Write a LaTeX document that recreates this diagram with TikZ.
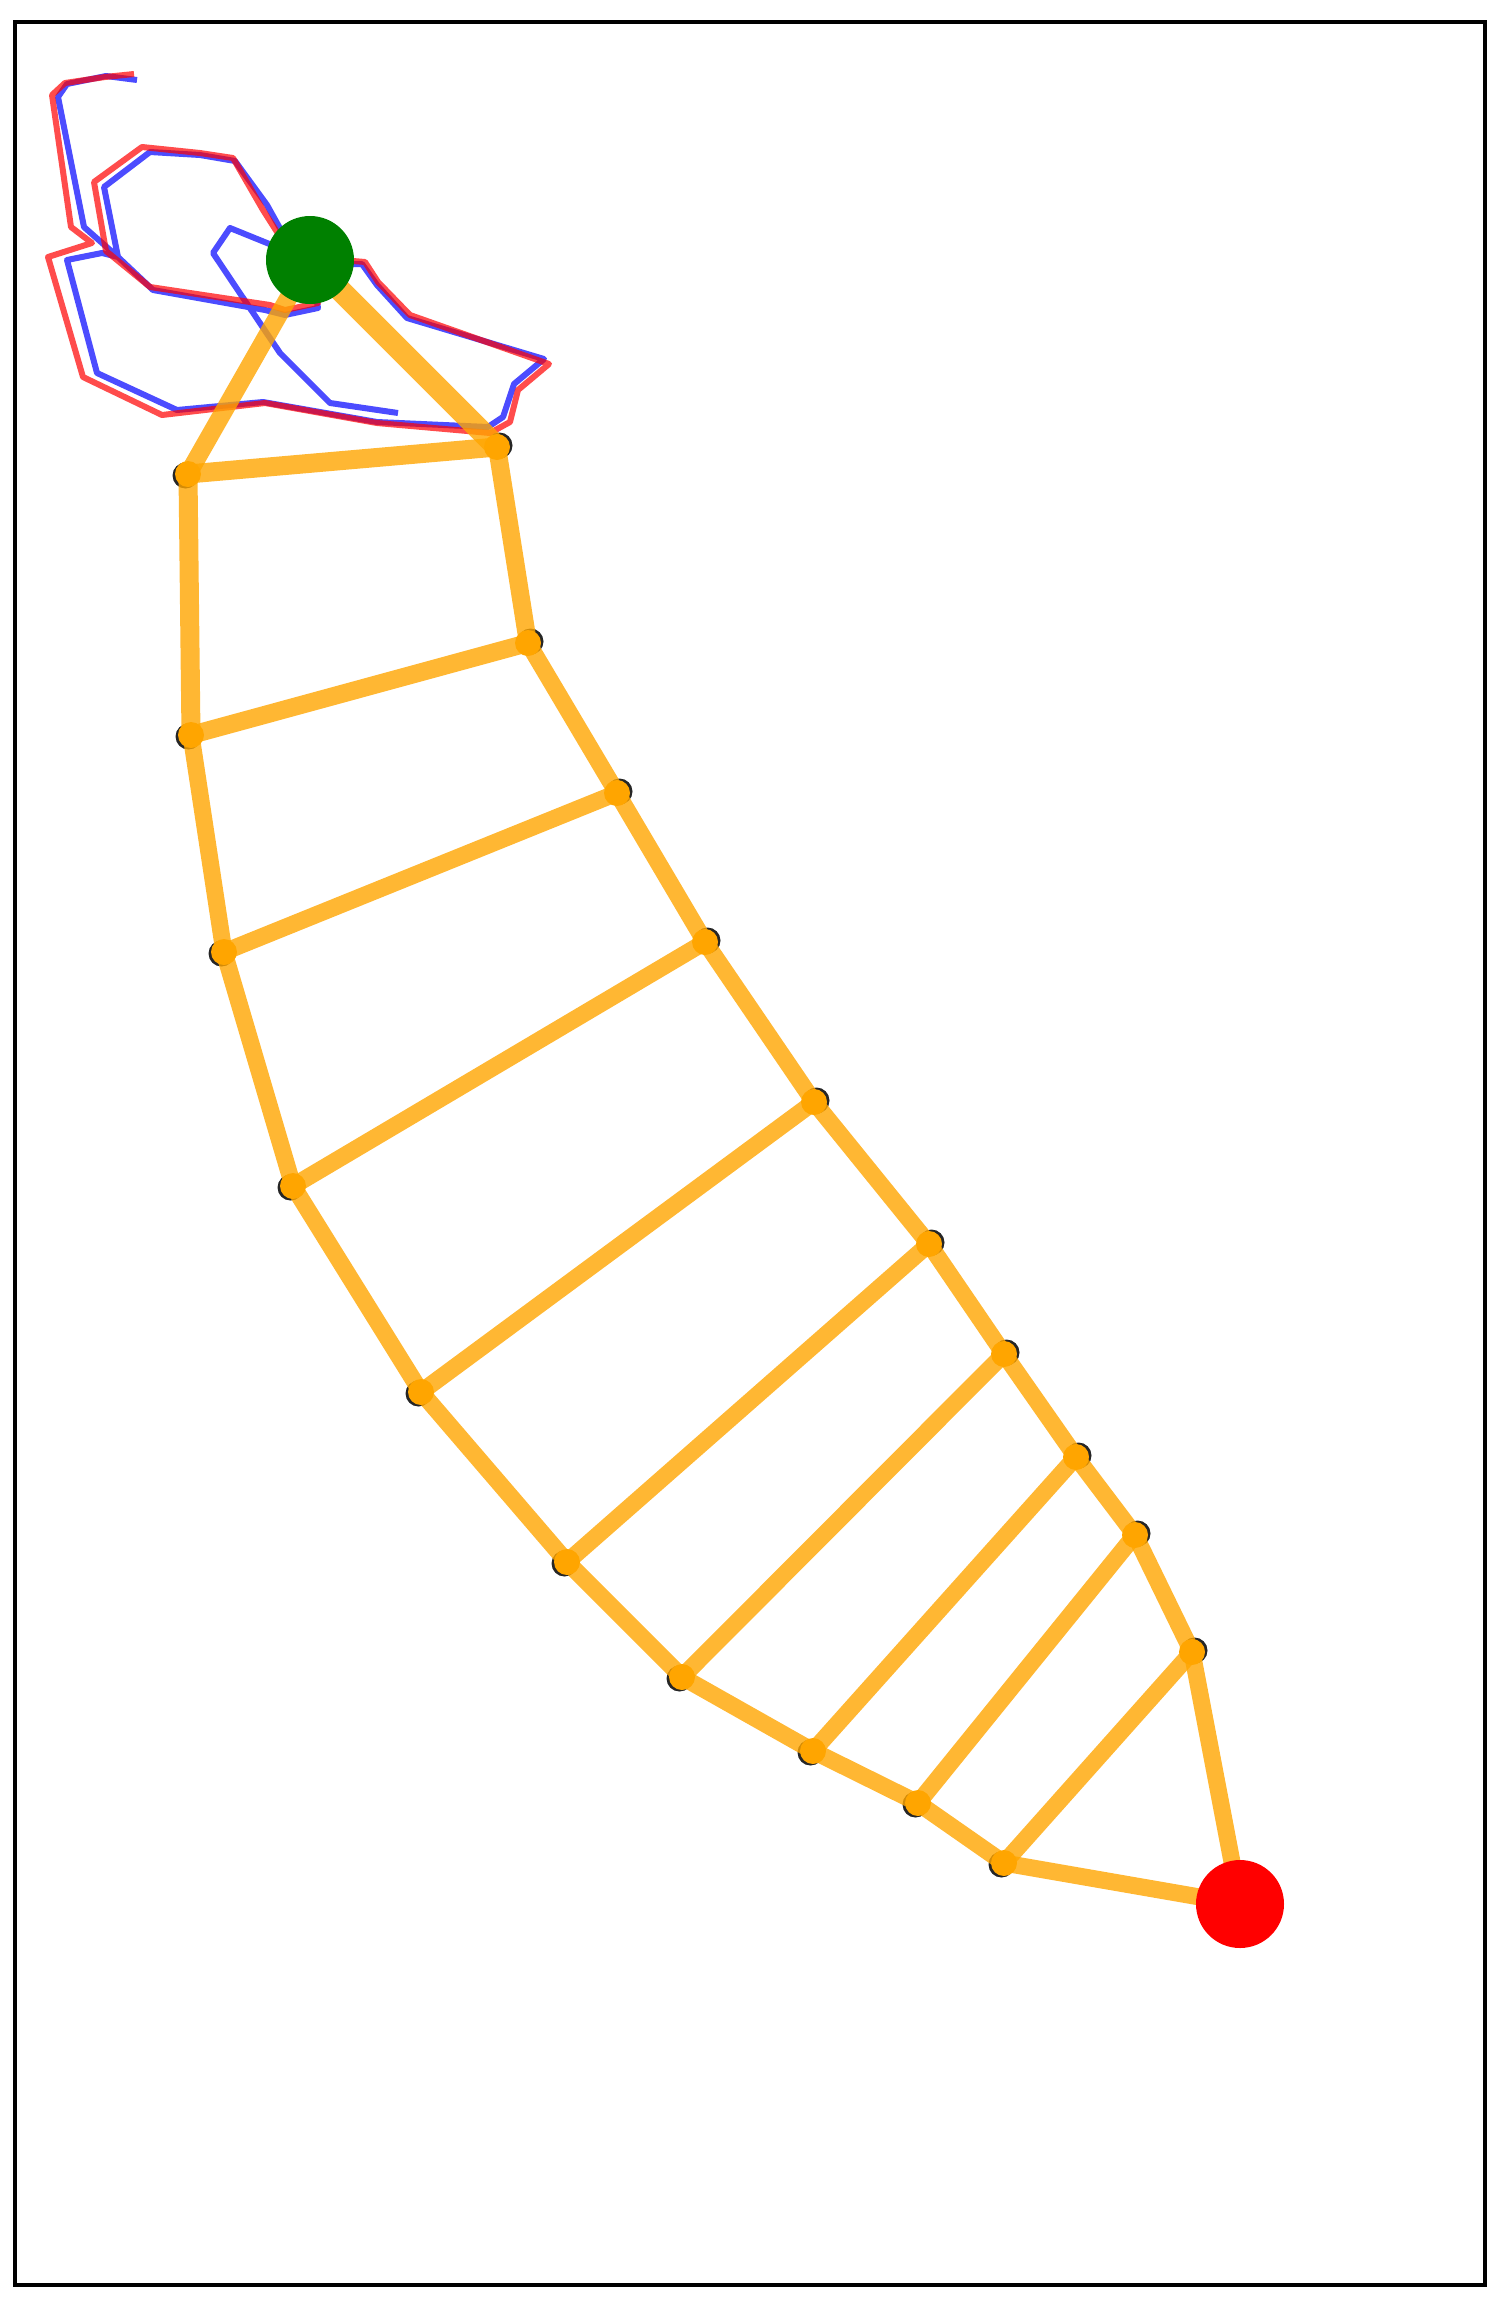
\documentclass[tikz,border=0pt]{standalone}
\usetikzlibrary{calc}
\definecolor{orng}{RGB}{255,165,0}
\definecolor{grn}{RGB}{0,128,0}
\begin{document}
\begin{tikzpicture}[x=1pt,y=-1pt,
  edge/.style={draw=orng,opacity=0.8,line width=17pt},
  traj/.style={line width=6pt,opacity=0.7,line join=round,line cap=butt},
  blk/.style={fill=black!85,draw=none},
  vtx/.style={fill=orng,draw=none}]
\useasboundingbox (0,0) rectangle (1500,2308);
\draw[line width=4pt] (15,22) rectangle (1485,2285);
% graph vertices
\coordinate (G) at (310,260);
\coordinate (T) at (1240,1904);
\coordinate (L1) at (188,474);
\coordinate (L2) at (191,735);
\coordinate (L3) at (224,952);
\coordinate (L4) at (293,1186);
\coordinate (L5) at (421,1392);
\coordinate (L6) at (567,1562);
\coordinate (L7) at (682,1677);
\coordinate (L8) at (813,1751);
\coordinate (L9) at (918,1803);
\coordinate (L10) at (1004,1863);
\coordinate (R1) at (497,447);
\coordinate (R2) at (528,643);
\coordinate (R3) at (617,793);
\coordinate (R4) at (705,942);
\coordinate (R5) at (814,1102);
\coordinate (R6) at (929,1244);
\coordinate (R7) at (1004,1354);
\coordinate (R8) at (1076,1457);
\coordinate (R9) at (1135,1535);
\coordinate (R10) at (1192,1652);
% trajectories
\draw[traj,draw=blue] (137,80) -- (106,76) -- (67,84) -- (58,97) -- (84,227) -- (118,257) -- (102,253) -- (67,260) -- (97,373) -- (177,410) -- (263,402) -- (377,422) -- (488,427) -- (503,417) -- (514,384) -- (544,359) -- (407,318) -- (377,285) -- (362,264) -- (353,264) -- (G) -- (318,308) -- (285,315) -- (265,310) -- (153,290) -- (118,257) -- (104,187) -- (150,152) -- (200,155) -- (235,161) -- (267,205) -- (282,232) -- (G) -- (267,243) -- (230,228) -- (213,253) -- (280,353) -- (330,403) -- (398,413);
\draw[traj,draw=red] (134,74) -- (105,77) -- (65,83) -- (52,95) -- (71,227) -- (92,243) -- (48,257) -- (83,377) -- (162,415) -- (265,403) -- (377,423) -- (490,433) -- (510,422) -- (518,390) -- (549,364) -- (410,315) -- (378,282) -- (365,262) -- (353,261) -- (G) -- (318,303) -- (285,310) -- (270,305) -- (150,287) -- (106,251) -- (94,182) -- (142,147) -- (200,153) -- (233,158) -- (263,210) -- (277,232) -- (G);
% vertex markers
\foreach \n in {L1,L2,L3,L4,L5,L6,L7,L8,L9,L10} {
  \fill[blk] ($(\n)+(-2.5,1.5)$) circle (13);
  \fill[vtx] (\n) circle (13);
}
\foreach \n in {R1,R2,R3,R4,R5,R6,R7,R8,R9,R10} {
  \fill[blk] ($(\n)+(2.5,-1.5)$) circle (13);
  \fill[vtx] (\n) circle (13);
}
% graph edges
\draw[edge,line width=22pt] (G) -- (R1);
\draw[edge,line width=18pt] (G) -- (L1);
\draw[edge,line width=19pt] (L1) -- (R1);
\draw[edge,line width=19pt] (L1) -- (L2);
\draw[edge,line width=18pt] (R1) -- (R2);
\draw[edge,line width=18pt] (L2) -- (R2);
\draw[edge] (L2) -- (L3);
\draw[edge] (R2) -- (R3);
\draw[edge] (L3) -- (R3);
\draw[edge] (L3) -- (L4);
\draw[edge] (R3) -- (R4);
\draw[edge] (L4) -- (R4);
\draw[edge] (L4) -- (L5);
\draw[edge] (R4) -- (R5);
\draw[edge] (L5) -- (R5);
\draw[edge] (L5) -- (L6);
\draw[edge] (R5) -- (R6);
\draw[edge] (L6) -- (R6);
\draw[edge] (L6) -- (L7);
\draw[edge] (R6) -- (R7);
\draw[edge] (L7) -- (R7);
\draw[edge] (L7) -- (L8);
\draw[edge] (R7) -- (R8);
\draw[edge] (L8) -- (R8);
\draw[edge] (L8) -- (L9);
\draw[edge] (R8) -- (R9);
\draw[edge] (L9) -- (R9);
\draw[edge] (L9) -- (L10);
\draw[edge] (R9) -- (R10);
\draw[edge] (L10) -- (R10);
\draw[edge] (L10) -- (T);
\draw[edge] (R10) -- (T);
% start and goal
\node[circle,fill=grn,minimum size=88pt,inner sep=0pt] (start) at (G) {};
\node[circle,fill=red,minimum size=88pt,inner sep=0pt] (goal) at (T) {};
\end{tikzpicture}
\end{document}
